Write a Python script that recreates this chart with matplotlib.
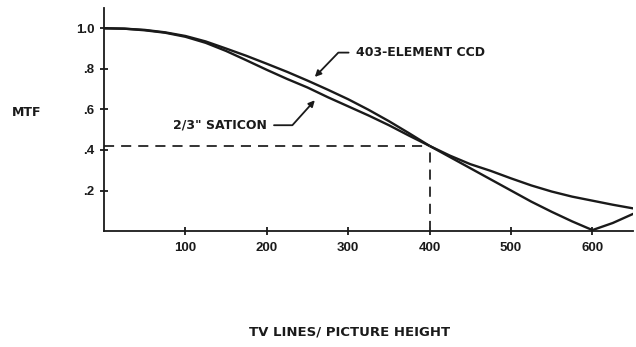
import matplotlib.pyplot as plt

# tv lines / picture height
lineas = [0, 25, 50, 75, 100, 125, 150, 175, 200, 225, 250, 275, 300, 325,
          350, 375, 400, 425, 450, 475, 500, 525, 550, 575, 600, 625, 650]

# MTF
mtf_ccd = [1.0, 0.998, 0.992, 0.98, 0.962, 0.935, 0.9, 0.864, 0.825, 0.785,
           0.742, 0.697, 0.65, 0.598, 0.542, 0.482, 0.42, 0.365, 0.31, 0.255,
           0.2, 0.145, 0.095, 0.048, 0.005, 0.04, 0.085]
mtf_saticon = [1.0, 0.998, 0.99, 0.978, 0.958, 0.928, 0.888, 0.842, 0.795, 0.75,
               0.708, 0.66, 0.615, 0.57, 0.522, 0.47, 0.42, 0.372, 0.33, 0.297,
               0.26, 0.225, 0.195, 0.17, 0.15, 0.13, 0.112]

mtf_ref = 0.42
lineas_ref = 400

xticks = [100, 200, 300, 400, 500, 600]
yticks = [0.2, 0.4, 0.6, 0.8, 1.0]
ylabels = ['.2', '.4', '.6', '.8', '1.0']

plt.rcParams['font.family'] = ['DejaVu Sans']
plt.rcParams['font.weight'] = 'bold'
tinta = '#1a1a1a'
letra_ejes = ['Liberation Sans', 'DejaVu Sans']

fig = plt.figure(figsize=(6.36, 3.47), dpi=100)
ax = fig.add_axes([0.1635, 0.334, 0.832, 0.643])

ax.plot(lineas, mtf_ccd, color=tinta, lw=1.7, solid_capstyle='round')
ax.plot(lineas, mtf_saticon, color=tinta, lw=1.7, solid_capstyle='round')

# dashed reference lines at 400 lines
ax.plot([0, lineas_ref], [mtf_ref, mtf_ref], color='#333333', lw=1.4, dashes=(5.2, 3.6))
ax.plot([lineas_ref, lineas_ref], [0, mtf_ref], color='#333333', lw=1.4, dashes=(5.2, 3.6))

ax.set_xlim(0, 650)
ax.set_ylim(0, 1.1)
ax.spines['top'].set_visible(False)
ax.spines['right'].set_visible(False)
ax.spines['left'].set_linewidth(1.3)
ax.spines['bottom'].set_linewidth(1.3)
ax.spines['left'].set_color(tinta)
ax.spines['bottom'].set_color(tinta)

ax.set_xticks(xticks)
ax.set_xticklabels([str(t) for t in xticks], family=letra_ejes, fontsize=9.5)
ax.set_yticks(yticks)
ax.set_yticklabels(ylabels, family=letra_ejes, fontsize=9.5)
ax.tick_params(direction='inout', length=6, width=1.3, colors=tinta)
ax.tick_params(axis='x', pad=5)
ax.tick_params(axis='y', pad=4)

ax.annotate('403-ELEMENT CCD', xy=(259, 0.76), xytext=(309, 0.88),
            fontsize=9, color=tinta, va='center', ha='left',
            arrowprops=dict(arrowstyle='-|>', color=tinta, lw=1.3, relpos=(0, 0.5),
                            mutation_scale=9, shrinkA=3, shrinkB=0,
                            connectionstyle='angle,angleA=0,angleB=46,rad=0'))
ax.annotate('2/3" SATICON', xy=(259, 0.645), xytext=(85, 0.522),
            fontsize=9, color=tinta, va='center', ha='left',
            arrowprops=dict(arrowstyle='-|>', color=tinta, lw=1.3, relpos=(1, 0.5),
                            mutation_scale=9, shrinkA=3, shrinkB=0,
                            connectionstyle='angle,angleA=0,angleB=48,rad=0'))

fig.text(27 / 636, 1 - 113 / 347, 'MTF', fontsize=9, color=tinta, ha='center', va='center')
fig.text(350 / 636, 1 - 332 / 347, 'TV LINES/ PICTURE HEIGHT', fontsize=9.5, color=tinta,
         ha='center', va='center')

plt.savefig('out.png', dpi=100)
